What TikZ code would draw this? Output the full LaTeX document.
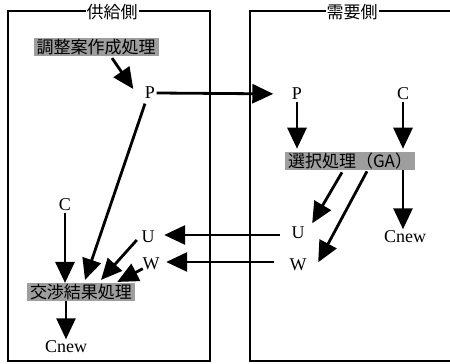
\documentclass[tikz,border=0pt]{standalone}
\usepackage{fontspec}
\setmainfont{Liberation Serif}
\newfontfamily\cjk{Noto Sans CJK JP}
\usetikzlibrary{arrows.meta}
\begin{document}
\begin{tikzpicture}[x=1pt,y=-1pt,
 arr/.style={line width=2.8pt,-{Triangle[length=21pt,width=19pt]}},
 frame/.style={line width=2pt},
 proc/.style={fill=black!38,font=\cjk\fontsize{17}{19}\selectfont,inner xsep=3pt,inner ysep=1pt},
 lbl/.style={font=\fontsize{18}{20}\selectfont,inner sep=1.5pt},
 ttl/.style={fill=white,font=\cjk\fontsize{17}{19}\selectfont,inner sep=1pt}]
\useasboundingbox (0,0) rectangle (450,364);
% frames
\draw[frame] (8,11) rectangle (210,361);
\draw[frame] (450,11) -- (250,11) -- (250,361) -- (450,361);
\node[ttl] (tL) at (112,12) {供給側};
\node[ttl] (tR) at (352,12) {需要側};
% left side nodes
\node[proc] (t1) at (96,47) {調整案作成処理};
\node[lbl] (pL) at (150,93) {P};
\node[lbl] (cL) at (65,205) {C};
\node[lbl] (uL) at (148,237) {U};
\node[lbl] (wL) at (151,264) {W};
\node[proc] (t3) at (81,292) {交渉結果処理};
\node[lbl] (cnL) at (66,347) {Cnew};
% right side nodes
\node[lbl] (pR) at (297,94) {P};
\node[lbl] (cR) at (403,94) {C};
\node[proc] (t2) at (350,161) {選択処理（GA）};
\node[lbl] (uR) at (298,233) {U};
\node[lbl] (wR) at (298,265) {W};
\node[lbl] (cnR) at (405,237) {Cnew};
% arrows left
\draw[arr] ([xshift=16pt,yshift=-2pt]t1.south) -- ([xshift=-10pt,yshift=4pt]pL.west);
\draw[arr] ([xshift=-5pt,yshift=-3pt]pL.south) -- ([xshift=4pt,yshift=3pt]t3.north);
\draw[arr] (cL.south) -- (cL.south |- t3.north);
\draw[arr] ([xshift=-3pt,yshift=-3pt]uL.west) -- ([xshift=20pt,yshift=3pt]t3.north);
\draw[arr] ([xshift=2pt,yshift=3pt]wL.south west) -- ([xshift=-18pt,yshift=1pt]t3.north east);
\draw[arr] (cnL.north |- t3.south) -- (cnL.north);
% horizontal
\draw[arr,shorten >=17pt] (pL.east) -- (pR.west);
\draw[arr,shorten <=10pt,shorten >=8pt] ([yshift=-2pt]uR.west) -- ([yshift=-2pt]uR.west -| uL.east);
\draw[arr,shorten <=14pt,shorten >=5pt] ([yshift=3pt]wR.west) -- ([yshift=3pt]wR.west -| wL.east);
% arrows right
\draw[arr,shorten >=3pt] (pR.south) -- (pR.south |- t2.north);
\draw[arr,shorten >=3pt] (cR.south) -- (cR.south |- t2.north);
\draw[arr] ([xshift=-8pt,yshift=-2pt]t2.south) -- ([xshift=6pt,yshift=2pt]uR.north east);
\draw[arr] ([xshift=17pt,yshift=-1pt]t2.south) -- ([xshift=10pt,yshift=-5pt]wR.north east);
\draw[arr] (cR.south |- t2.south) -- (cR.south |- cnR.north);
\end{tikzpicture}
\end{document}
